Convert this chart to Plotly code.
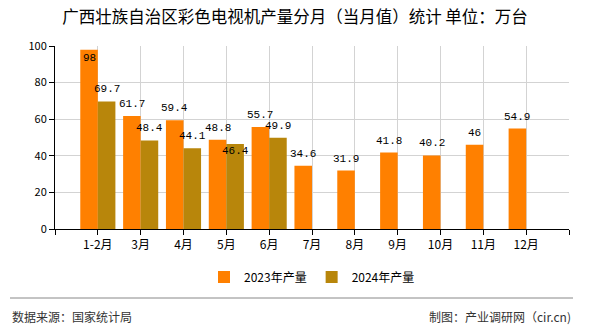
import plotly.graph_objects as go

categories = ["1-2月", "3月", "4月", "5月", "6月", "7月", "8月", "9月", "10月", "11月", "12月"]
s2023_name = "2023年产量"
s2024_name = "2024年产量"
s2023 = [98, 61.7, 59.4, 48.8, 55.7, 34.6, 31.9, 41.8, 40.2, 46, 54.9]
s2024 = [69.7, 48.4, 44.1, 46.4, 49.9, None, None, None, None, None, None]
yticks = [0, 20, 40, 60, 80, 100]

c23 = "#FF8000"
c24 = "#B8860B"
bargap = 0.18
xs = list(range(len(categories)))

H, W = 330, 590
pl, pr, pt, pb = 55, 21, 46, 101
ph, pw = H - pt - pb, W - pl - pr


def px_x(px):
    return (px - pl) / pw


def px_y(py):
    return (H - pb - py) / ph


fig = go.Figure()
fig.add_trace(go.Bar(x=xs, y=s2023, name=s2023_name, marker_color=c23, marker_line_width=0))
fig.add_trace(go.Bar(x=xs, y=s2024, name=s2024_name, marker_color=c24, marker_line_width=0))

half = (1 - bargap) / 4
lab_font = dict(family="Liberation Mono, DejaVu Sans Mono, monospace", size=11, color="#000")
ann = []
for i, (a, b) in enumerate(zip(s2023, s2024)):
    for v, off, other in ((a, -half, b), (b, half, a)):
        if v is None:
            continue
        ys = 12
        if v > 90:
            ys = -8
        elif off > 0 and other is not None and abs(other - v) < 3:
            ys = -7
        ann.append(dict(x=i + off, y=v, text=f"{v:g}", showarrow=False, yshift=ys,
                        font=lab_font, xref="x", yref="y"))

ann.append(dict(text="数据来源：国家统计局", x=px_x(10), y=px_y(316), xref="paper", yref="paper",
                xanchor="left", yanchor="middle", showarrow=False, font=dict(size=12, color="#333")))
ann.append(dict(text="制图：产业调研网（cir.cn)", x=px_x(573), y=px_y(316), xref="paper", yref="paper",
                xanchor="right", yanchor="middle", showarrow=False, font=dict(size=12, color="#333")))

fig.update_layout(
    width=W, height=H,
    margin=dict(l=pl, r=pr, t=pt, b=pb),
    paper_bgcolor="white", plot_bgcolor="white",
    barmode="group", bargap=bargap, bargroupgap=0,
    title=dict(text="广西壮族自治区彩色电视机产量分月（当月值）统计 单位：万台",
               x=0.5, xanchor="center", y=1 - 17 / H, yanchor="middle",
               font=dict(family="Noto Sans CJK SC", size=16.5, color="#000")),
    font=dict(family="Noto Sans CJK SC", size=12, color="#000"),
    showlegend=True,
    legend=dict(orientation="h", x=0.5, xanchor="center", y=px_y(277), yanchor="middle",
                font=dict(size=12, color="#000"), traceorder="normal"),
    xaxis=dict(
        range=[-1, len(categories)],
        tickmode="array",
        tickvals=list(range(-1, len(categories) + 1)),
        ticktext=[""] + categories + [""],
        showgrid=True, gridcolor="#D3D3D3", gridwidth=1,
        showline=True, linecolor="#000", linewidth=1,
        ticks="outside", ticklen=5, tickcolor="#000",
        tickfont=dict(size=12, color="#000"), zeroline=False,
    ),
    yaxis=dict(
        range=[0, 100],
        tickvals=yticks,
        showgrid=True, gridcolor="#D3D3D3", gridwidth=1,
        showline=True, linecolor="#000", linewidth=1,
        ticks="outside", ticklen=5, tickcolor="#000",
        tickfont=dict(size=11, color="#000"), zeroline=False,
    ),
    annotations=ann,
    shapes=[dict(type="line", xref="paper", yref="paper", x0=px_x(10), x1=px_x(573),
                 y0=px_y(298), y1=px_y(298), line=dict(color="#888", width=1))],
)

fig.write_html("out.html")
